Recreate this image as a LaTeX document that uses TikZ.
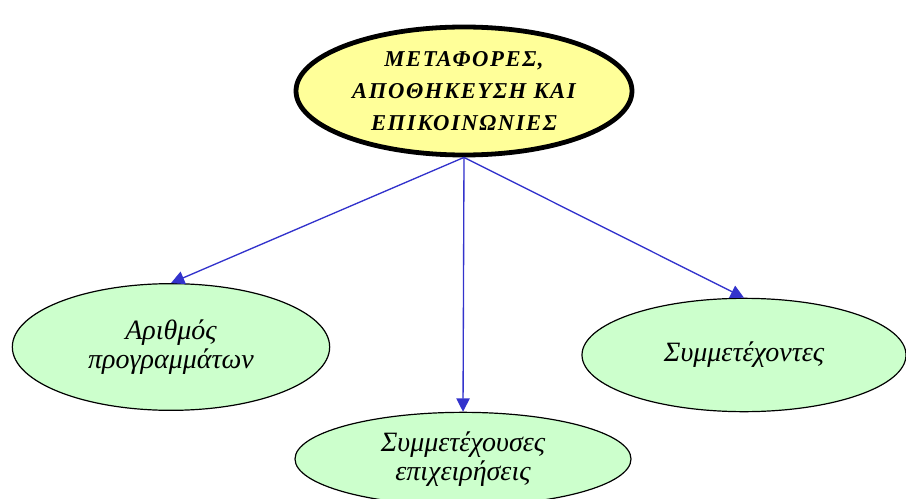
\documentclass[tikz,border=0pt]{standalone}
\usepackage{fontspec}
\setmainfont{Liberation Serif}
\newfontfamily\capsfont[LetterSpace=7]{Liberation Serif}
\usetikzlibrary{arrows.meta,positioning,shapes.geometric}
\definecolor{topicyellow}{RGB}{255,255,153}
\definecolor{leafgreen}{RGB}{204,255,204}
\definecolor{linkblue}{RGB}{51,51,204}

\begin{document}
\begin{tikzpicture}[
      x=0.75pt,y=-0.75pt,
      topic/.style={ellipse,draw,line width=3.6pt,fill=topicyellow,inner sep=0pt,
                    minimum width=252pt,minimum height=96pt,align=center,
                    font=\capsfont\bfseries\itshape\fontsize{17}{24}\selectfont},
      leaf/.style={ellipse,draw,line width=0.9pt,fill=leafgreen,inner sep=0pt,
                   align=center,font=\itshape\fontsize{21}{22}\selectfont},
      flow/.style={-{Triangle[length=10pt,width=10pt]},draw=linkblue,fill=linkblue,line width=1pt},
    ]
    \useasboundingbox (0,0) rectangle (906,499);
    \clip (0,0) rectangle (906,499);

    \node[topic] (top) at (464,91) {ΜΕΤΑΦΟΡΕΣ,\\ΑΠΟΘΗΚΕΥΣΗ ΚΑΙ\\ΕΠΙΚΟΙΝΩΝΙΕΣ};
    \node[leaf,minimum width=238pt,minimum height=95pt] (prog) at (171,347) {Αριθμός\\προγραμμάτων};
    \node[leaf,minimum width=252pt,minimum height=70pt] (firms) at (463,459) {Συμμετέχουσες\\επιχειρήσεις};
    \node[leaf,minimum width=243pt,minimum height=85pt] (part) at (744,355) {Συμμετέχοντες};

    \draw[flow] (top.south) -- (prog.north);
    \draw[flow] (top.south) -- (firms.north);
    \draw[flow] (top.south) -- (part.north);
  \end{tikzpicture}
\end{document}
